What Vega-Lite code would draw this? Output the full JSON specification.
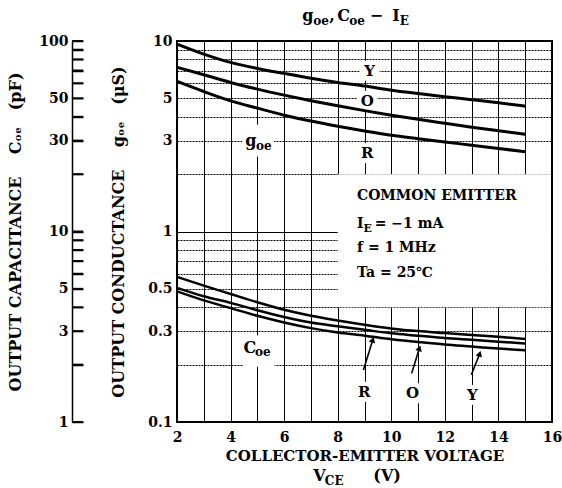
{
  "$schema": "https://vega.github.io/schema/vega-lite/v6.json",
  "width": 375,
  "height": 381,
  "autosize": {"type": "none"},
  "padding": {"left": 177, "top": 41, "right": 10, "bottom": 66},
  "background": "white",
  "config": {
    "font": "DejaVu Serif",
    "view": {"stroke": "black", "strokeWidth": 2},
    "axis": {"labelFont": "DejaVu Serif", "titleFont": "DejaVu Serif", "labelFontWeight": "bold", "titleFontWeight": "bold", "labelColor": "black", "titleColor": "black", "labelOverlap": false, "labelFlush": false},
    "text": {"font": "DejaVu Serif", "fontWeight": "bold", "color": "black"}
  },
  "datasets": {
    "box": [{"v": 8, "v2": 15.96, "g": 0.4, "g2": 2}],
    "goe": [
      {"v": 2, "g": 9.64, "s": "Y"}, {"v": 3, "g": 8.54, "s": "Y"}, {"v": 4, "g": 7.72, "s": "Y"}, {"v": 5, "g": 7.18, "s": "Y"}, {"v": 6, "g": 6.76, "s": "Y"}, {"v": 7, "g": 6.38, "s": "Y"}, {"v": 8, "g": 6.06, "s": "Y"}, {"v": 9, "g": 5.8, "s": "Y"}, {"v": 10, "g": 5.52, "s": "Y"}, {"v": 11, "g": 5.3, "s": "Y"}, {"v": 12, "g": 5.1, "s": "Y"}, {"v": 13, "g": 4.92, "s": "Y"}, {"v": 14, "g": 4.74, "s": "Y"}, {"v": 15, "g": 4.55, "s": "Y"},
      {"v": 2, "g": 7.28, "s": "O"}, {"v": 3, "g": 6.65, "s": "O"}, {"v": 4, "g": 6.06, "s": "O"}, {"v": 5, "g": 5.59, "s": "O"}, {"v": 6, "g": 5.2, "s": "O"}, {"v": 7, "g": 4.86, "s": "O"}, {"v": 8, "g": 4.57, "s": "O"}, {"v": 9, "g": 4.31, "s": "O"}, {"v": 10, "g": 4.08, "s": "O"}, {"v": 11, "g": 3.88, "s": "O"}, {"v": 12, "g": 3.7, "s": "O"}, {"v": 13, "g": 3.53, "s": "O"}, {"v": 14, "g": 3.38, "s": "O"}, {"v": 15, "g": 3.24, "s": "O"},
      {"v": 2, "g": 6.14, "s": "R"}, {"v": 3, "g": 5.43, "s": "R"}, {"v": 4, "g": 4.85, "s": "R"}, {"v": 5, "g": 4.44, "s": "R"}, {"v": 6, "g": 4.08, "s": "R"}, {"v": 7, "g": 3.8, "s": "R"}, {"v": 8, "g": 3.57, "s": "R"}, {"v": 9, "g": 3.37, "s": "R"}, {"v": 10, "g": 3.2, "s": "R"}, {"v": 11, "g": 3.07, "s": "R"}, {"v": 12, "g": 2.95, "s": "R"}, {"v": 13, "g": 2.84, "s": "R"}, {"v": 14, "g": 2.73, "s": "R"}, {"v": 15, "g": 2.62, "s": "R"}
    ],
    "coe": [
      {"v": 2, "c": 5.78, "s": "Y"}, {"v": 3, "c": 5.2, "s": "Y"}, {"v": 4, "c": 4.7, "s": "Y"}, {"v": 5, "c": 4.25, "s": "Y"}, {"v": 6, "c": 3.88, "s": "Y"}, {"v": 7, "c": 3.61, "s": "Y"}, {"v": 8, "c": 3.41, "s": "Y"}, {"v": 9, "c": 3.24, "s": "Y"}, {"v": 10, "c": 3.1, "s": "Y"}, {"v": 11, "c": 3.0, "s": "Y"}, {"v": 12, "c": 2.93, "s": "Y"}, {"v": 13, "c": 2.86, "s": "Y"}, {"v": 14, "c": 2.8, "s": "Y"}, {"v": 15, "c": 2.73, "s": "Y"},
      {"v": 2, "c": 5.06, "s": "O"}, {"v": 3, "c": 4.57, "s": "O"}, {"v": 4, "c": 4.22, "s": "O"}, {"v": 5, "c": 3.86, "s": "O"}, {"v": 6, "c": 3.56, "s": "O"}, {"v": 7, "c": 3.33, "s": "O"}, {"v": 8, "c": 3.18, "s": "O"}, {"v": 9, "c": 3.05, "s": "O"}, {"v": 10, "c": 2.92, "s": "O"}, {"v": 11, "c": 2.84, "s": "O"}, {"v": 12, "c": 2.76, "s": "O"}, {"v": 13, "c": 2.7, "s": "O"}, {"v": 14, "c": 2.64, "s": "O"}, {"v": 15, "c": 2.58, "s": "O"},
      {"v": 2, "c": 4.85, "s": "R"}, {"v": 3, "c": 4.35, "s": "R"}, {"v": 4, "c": 3.96, "s": "R"}, {"v": 5, "c": 3.61, "s": "R"}, {"v": 6, "c": 3.33, "s": "R"}, {"v": 7, "c": 3.11, "s": "R"}, {"v": 8, "c": 2.95, "s": "R"}, {"v": 9, "c": 2.84, "s": "R"}, {"v": 10, "c": 2.72, "s": "R"}, {"v": 11, "c": 2.63, "s": "R"}, {"v": 12, "c": 2.55, "s": "R"}, {"v": 13, "c": 2.49, "s": "R"}, {"v": 14, "c": 2.43, "s": "R"}, {"v": 15, "c": 2.38, "s": "R"}
    ],
    "coeticks": [
      {"c": 1}, {"c": 2}, {"c": 3}, {"c": 4}, {"c": 5}, {"c": 6}, {"c": 7}, {"c": 8}, {"c": 9}, {"c": 10},
      {"c": 20}, {"c": 30}, {"c": 40}, {"c": 50}, {"c": 60}, {"c": 70}, {"c": 80}, {"c": 90}, {"c": 100}
    ],
    "letters": [
      {"v": 9.19, "g": 6.98, "t": "Y"}, {"v": 9.1, "g": 4.85, "t": "O"}, {"v": 9.1, "g": 2.58, "t": "R"},
      {"v": 8.99, "g": 0.144, "t": "R"}, {"v": 10.79, "g": 0.1415, "t": "O"}, {"v": 13.03, "g": 0.1387, "t": "Y"}
    ],
    "names": [
      {"v": 5.03, "g": 3.0}, {"v": 5.05, "g": 0.236}
    ],
    "notes": [
      {"v": 8.72, "g": 1.464, "t": "COMMON EMITTER"},
      {"v": 8.72, "g": 1.043, "t": "I"},
      {"v": 9.38, "g": 1.043, "t": "= −1 mA"},
      {"v": 8.72, "g": 0.783, "t": "f = 1 MHz"},
      {"v": 8.72, "g": 0.579, "t": "Ta = 25℃"}
    ],
    "notesubs": [{"v": 8.96, "g": 0.997, "t": "E"}],
    "titles": [
      {"v": 6.677, "g": 12.7, "t": "g"}, {"v": 7.685, "g": 12.7, "t": ","}, {"v": 7.984, "g": 12.7, "t": "C"}, {"v": 9.2, "g": 12.7, "t": "−"}, {"v": 10.04, "g": 12.7, "t": "I"},
      {"v": 7.09, "g": 0.049, "t": "V"}, {"v": 9.33, "g": 0.049, "t": "(V)"},
      {"v": 4.55, "g": 2.81, "t": "g"}, {"v": 4.48, "g": 0.2315, "t": "C"}
    ],
    "titlesubs": [
      {"v": 7.09, "g": 12.1, "t": "oe"}, {"v": 8.43, "g": 12.1, "t": "oe"}, {"v": 10.32, "g": 12.1, "t": "E"},
      {"v": 7.52, "g": 0.0467, "t": "CE"},
      {"v": 4.95, "g": 2.68, "t": "oe"}, {"v": 4.91, "g": 0.222, "t": "oe"}
    ],
    "arrows": [
      {"v": 8.96, "g": 0.1875, "v2": 9.31, "g2": 0.27},
      {"v": 10.76, "g": 0.18, "v2": 11.05, "g2": 0.244},
      {"v": 12.99, "g": 0.177, "v2": 13.3, "g2": 0.228}
    ],
    "tips": [
      {"v": 9.31, "g": 0.27}, {"v": 11.05, "g": 0.244}, {"v": 13.3, "g": 0.228}
    ]
  },
  "resolve": {"scale": {"y": "independent"}},
  "layer": [
    {
      "layer": [
        {
          "data": {"name": "box"},
          "mark": {"type": "rect", "fill": "white", "strokeWidth": 0},
          "encoding": {
            "x": {"field": "v", "type": "quantitative",
              "scale": {"domain": [2, 16], "nice": false, "zero": false},
              "axis": {"values": [2, 3, 4, 5, 6, 7, 8, 9, 10, 11, 12, 13, 14, 15, 16], "tickCount": 100,
                "labelExpr": "datum.value % 2 == 0 ? format(datum.value, 'd') : ''",
                "ticks": false, "tickSize": 0, "domain": false, "labelPadding": 8, "labelFontSize": 14,
                "grid": true, "gridColor": "black", "gridOpacity": 1, "gridWidth": 1,
                "title": "COLLECTOR-EMITTER VOLTAGE", "titleFontSize": 15, "titlePadding": 4}},
            "x2": {"field": "v2"},
            "y": {"field": "g", "type": "quantitative",
              "scale": {"type": "log", "domain": [0.1, 10], "nice": false},
              "axis": {"orient": "left", "values": [0.1, 0.2, 0.3, 0.4, 0.5, 0.6, 0.7, 0.8, 0.9, 1, 2, 3, 4, 5, 6, 7, 8, 9, 10], "tickCount": 100,
                "labelExpr": "(datum.value == 0.1 || datum.value == 0.3 || datum.value == 0.5 || datum.value == 1 || datum.value == 3 || datum.value == 5 || datum.value == 10) ? format(datum.value, '~g') : ''",
                "ticks": false, "tickSize": 0, "domain": false, "labelPadding": 5, "labelFontSize": 14,
                "grid": true, "gridColor": "black", "gridOpacity": 1, "gridWidth": 1,
                "gridDash": {"condition": {"test": "datum.value == 1 || datum.value == 10 || datum.value == 0.1", "value": []}, "value": [2, 1]},
                "title": "OUTPUT CONDUCTANCE\u00a0\u00a0\u00a0\u00a0gₒₑ\u00a0\u00a0\u00a0(μS)", "titleFontSize": 16, "titlePadding": 21}},
            "y2": {"field": "g2"}
          }
        },
        {
          "data": {"name": "letters"},
          "mark": {"type": "point", "shape": "square", "filled": true, "color": "white", "opacity": 1, "size": 400},
          "encoding": {"x": {"field": "v", "type": "quantitative"}, "y": {"field": "g", "type": "quantitative"}}
        },
        {
          "data": {"name": "names"},
          "mark": {"type": "point", "shape": "square", "filled": true, "color": "white", "opacity": 1, "size": 1000},
          "encoding": {"x": {"field": "v", "type": "quantitative"}, "y": {"field": "g", "type": "quantitative"}}
        },
        {
          "data": {"name": "goe"},
          "mark": {"type": "line", "color": "black", "strokeWidth": 3, "interpolate": "monotone"},
          "encoding": {"x": {"field": "v", "type": "quantitative"}, "y": {"field": "g", "type": "quantitative"}, "detail": {"field": "s"}}
        },
        {
          "data": {"name": "letters"},
          "mark": {"type": "text", "fontSize": 15, "align": "center", "baseline": "middle"},
          "encoding": {"x": {"field": "v", "type": "quantitative"}, "y": {"field": "g", "type": "quantitative"}, "text": {"field": "t"}}
        },
        {
          "data": {"name": "notes"},
          "mark": {"type": "text", "fontSize": 14, "align": "left", "baseline": "alphabetic"},
          "encoding": {"x": {"field": "v", "type": "quantitative"}, "y": {"field": "g", "type": "quantitative"}, "text": {"field": "t"}}
        },
        {
          "data": {"name": "notesubs"},
          "mark": {"type": "text", "fontSize": 11, "align": "left", "baseline": "alphabetic"},
          "encoding": {"x": {"field": "v", "type": "quantitative"}, "y": {"field": "g", "type": "quantitative"}, "text": {"field": "t"}}
        },
        {
          "data": {"name": "titles"},
          "mark": {"type": "text", "fontSize": 16, "align": "left", "baseline": "alphabetic"},
          "encoding": {"x": {"field": "v", "type": "quantitative"}, "y": {"field": "g", "type": "quantitative"}, "text": {"field": "t"}}
        },
        {
          "data": {"name": "titlesubs"},
          "mark": {"type": "text", "fontSize": 12, "align": "left", "baseline": "alphabetic"},
          "encoding": {"x": {"field": "v", "type": "quantitative"}, "y": {"field": "g", "type": "quantitative"}, "text": {"field": "t"}}
        },
        {
          "data": {"name": "arrows"},
          "mark": {"type": "rule", "color": "black", "strokeWidth": 1.6},
          "encoding": {"x": {"field": "v", "type": "quantitative"}, "y": {"field": "g", "type": "quantitative"}, "x2": {"field": "v2"}, "y2": {"field": "g2"}}
        },
        {
          "data": {"name": "tips"},
          "mark": {"type": "point", "shape": "triangle-up", "filled": true, "color": "black", "opacity": 1, "size": 45, "angle": 18},
          "encoding": {"x": {"field": "v", "type": "quantitative"}, "y": {"field": "g", "type": "quantitative"}}
        }
      ]
    },
    {
      "layer": [
        {
          "data": {"name": "coe"},
          "mark": {"type": "line", "color": "black", "strokeWidth": 2.5, "interpolate": "monotone"},
          "encoding": {
            "x": {"field": "v", "type": "quantitative"},
            "y": {"field": "c", "type": "quantitative",
              "scale": {"type": "log", "domain": [1, 100], "nice": false},
              "axis": {"orient": "right", "offset": -480, "values": [1, 2, 3, 4, 5, 6, 7, 8, 9, 10, 20, 30, 40, 50, 60, 70, 80, 90, 100], "tickCount": 100,
                "labelExpr": "(datum.value == 1 || datum.value == 3 || datum.value == 5 || datum.value == 10 || datum.value == 30 || datum.value == 50 || datum.value == 100) ? format(datum.value, '~g') : ''",
                "ticks": true, "tickSize": 11, "tickColor": "#000000", "tickOpacity": 1, "tickWidth": 1.5,
                "domain": true, "domainColor": "black", "domainWidth": 1.5,
                "labelAlign": "right", "labelPadding": -15, "labelFontSize": 14, "grid": false,
                "title": "OUTPUT CAPACITANCE\u00a0\u00a0\u00a0\u00a0Cₒₑ\u00a0\u00a0\u00a0(pF)", "titleFontSize": 16, "titleAngle": 270, "titlePadding": -60}},
            "detail": {"field": "s"}
          }
        },
        {
          "data": {"name": "coeticks"},
          "mark": {"type": "rule", "color": "black", "strokeWidth": 2, "opacity": 1},
          "encoding": {
            "x": {"datum": -1.92, "type": "quantitative"},
            "x2": {"datum": -1.5},
            "y": {"field": "c", "type": "quantitative"}
          }
        }
      ]
    }
  ]
}
